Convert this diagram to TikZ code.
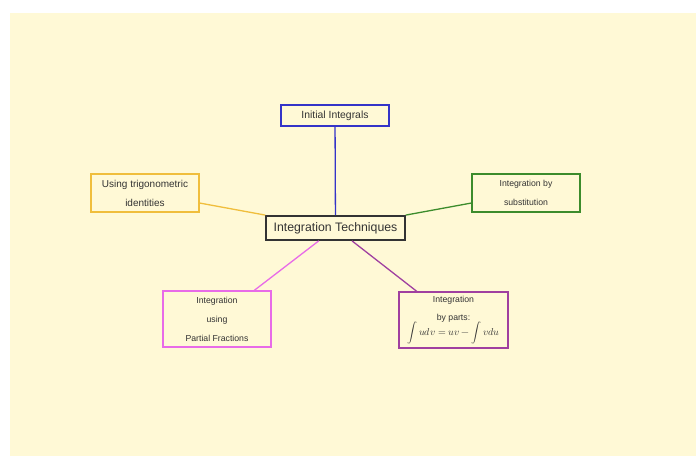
\documentclass[tikz,border=0pt]{standalone}
\usepackage{fontspec}
\setmainfont{Liberation Sans}
\usepackage{amsmath}
\usepackage{unicode-math}
\setmathfont{Latin Modern Math}
\definecolor{bgyellow}{HTML}{FFF9D6}
\definecolor{txtgray}{HTML}{333333}
\definecolor{cblue}{HTML}{3434C8}
\definecolor{cgold}{HTML}{F0BE3C}
\definecolor{cgreen}{HTML}{3C8C2C}
\definecolor{cpink}{HTML}{E86BE8}
\definecolor{cpurple}{HTML}{A040A0}
\definecolor{cdark}{HTML}{333333}
\tikzset{
  topic/.style={draw, line width=1.3pt, inner sep=0pt, align=center, text=txtgray,
    minimum width=108pt, fill=bgyellow},
  link/.style={line width=1.3pt},
}
\begin{document}
\begin{tikzpicture}[x=1pt,y=-1pt]
\useasboundingbox (0,0) rectangle (696,456);
\fill[bgyellow] (10,13) rectangle (696,456);
% nodes
\node[topic, draw=cblue, minimum height=21pt, font=\fontsize{10.4}{12}\selectfont] (init) at (335,115.5) {Initial Integrals};
\node[topic, draw=cgold, minimum height=38pt, font=\fontsize{10}{19}\selectfont] (trig) at (145,193) {Using trigonometric\\identities};
\node[topic, draw=cgreen, minimum height=38pt, font=\fontsize{8.7}{19}\selectfont] (subs) at (526,193) {Integration by\\substitution};
\node[topic, draw=cdark, line width=1.8pt, minimum width=139pt, minimum height=24pt, font=\fontsize{12.3}{14}\selectfont] (tech) at (335.5,228) {Integration Techniques};
\node[topic, draw=cpink, minimum height=56pt, font=\fontsize{8.7}{19}\selectfont] (part) at (217,319) {Integration\\using\\Partial Fractions};
\node[topic, draw=cpurple, minimum width=109pt, minimum height=56pt, font=\fontsize{8.7}{18}\selectfont] (byp) at (453.5,320) {Integration\\by parts:\\[-3pt]{\fontsize{10}{12}\selectfont$\displaystyle\int udv = uv - \int vdu$}};
% connectors
\draw[link, cblue] (init) -- (tech);
\draw[link, cgold] (trig) -- (tech);
\draw[link, cgreen] (subs) -- (tech);
\draw[link, cpink] (part) -- (tech);
\draw[link, cpurple] (byp) -- (tech);
\end{tikzpicture}
\end{document}
